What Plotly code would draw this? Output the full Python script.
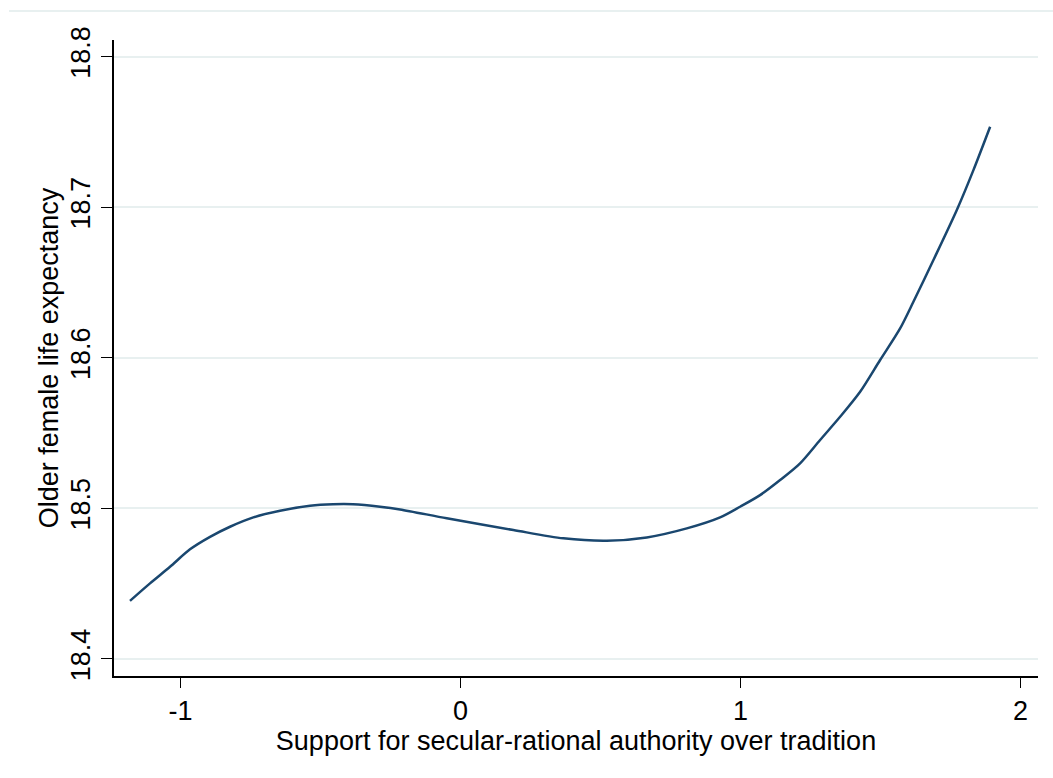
import plotly.graph_objects as go

# Fitted curve: secular-rational support vs. older female life expectancy
support = [-1.1804, -1.1089, -1.0375, -0.9661, -0.8946, -0.8232, -0.7400, -0.6446,
           -0.5375, -0.4554, -0.3839, -0.2875, -0.2161, -0.0493, 0.1886, 0.3671,
           0.5221, 0.6650, 0.8079, 0.9268, 0.9982, 1.0696, 1.1411, 1.2125,
           1.2839, 1.3554, 1.4268, 1.4982, 1.5696, 1.6171, 1.6886, 1.7721,
           1.8314, 1.8911]
life_exp = [18.4386, 18.4502, 18.4612, 18.4728, 18.4811, 18.4878, 18.4940, 18.4984,
            18.5017, 18.5027, 18.5027, 18.5011, 18.4993, 18.4934, 18.4856, 18.4801,
            18.4785, 18.4807, 18.4867, 18.4940, 18.5011, 18.5088, 18.5188, 18.5299,
            18.5454, 18.5608, 18.5774, 18.5985, 18.6195, 18.6372, 18.6649, 18.6981,
            18.7246, 18.7534]

x_ticks = [-1, 0, 1, 2]
y_ticks = [18.4, 18.5, 18.6, 18.7, 18.8]
y_tick_text = ["18.4", "18.5", "18.6", "18.7", "18.8"]

FONT = "Liberation Sans, Arial, sans-serif"
GRID = "#e8f0f0"
FS = 27

fig = go.Figure()
fig.add_trace(go.Scatter(
    x=support, y=life_exp, mode="lines",
    line=dict(color="#1a476f", width=2.5, shape="spline", smoothing=0.8),
    showlegend=False, hoverinfo="skip",
))

fig.update_layout(
    width=1053, height=778,
    margin=dict(l=114, r=15, t=40, b=102),
    paper_bgcolor="white", plot_bgcolor="white",
    font=dict(family=FONT, size=FS, color="black"),
    xaxis=dict(
        range=[-1.2375, 2.062],
        tickvals=x_ticks, ticktext=[str(v) for v in x_ticks],
        ticks="outside", ticklen=10, tickwidth=1, tickcolor="black",
        showline=True, linecolor="black", linewidth=1.5,
        showgrid=False, zeroline=False,
        tickfont=dict(size=FS),
        title=dict(text="Support for secular-rational authority over tradition",
                   font=dict(size=FS), standoff=2),
    ),
    yaxis=dict(
        range=[18.3887, 18.811],
        tickvals=y_ticks, ticktext=y_tick_text, tickangle=-90,
        ticks="outside", ticklen=11, tickwidth=1, tickcolor="black",
        showline=True, linecolor="black", linewidth=1.5,
        showgrid=True, gridcolor=GRID, gridwidth=2, zeroline=False,
        tickfont=dict(size=FS),
        title=dict(text="Older female life expectancy", font=dict(size=FS), standoff=0),
    ),
    shapes=[dict(type="line", xref="paper", yref="paper",
                 x0=-0.1136, x1=1.02, y0=1.0456, y1=1.0456,
                 line=dict(color=GRID, width=2))],
)

fig.write_html("out.html")
